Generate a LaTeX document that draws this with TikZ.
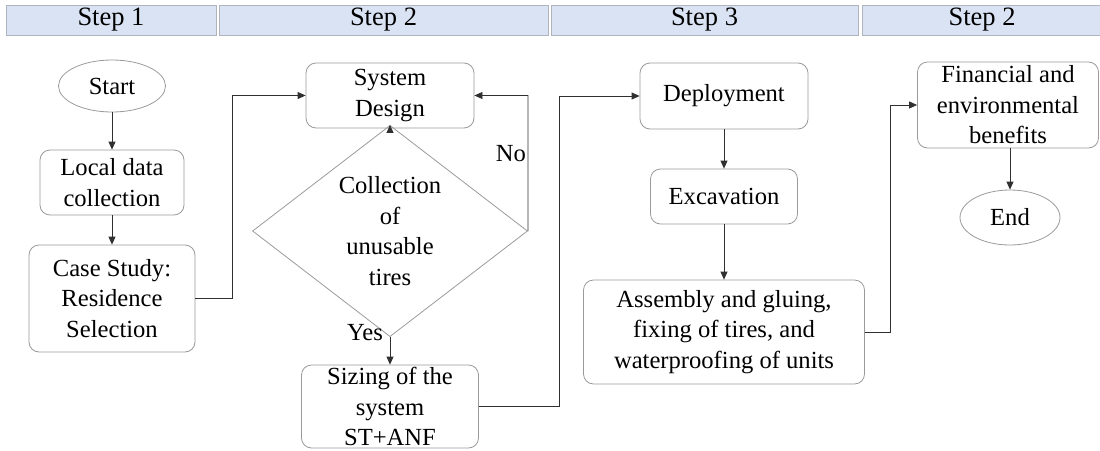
\documentclass[tikz,border=0pt]{standalone}
\usepackage{fontspec}
\setmainfont{Liberation Serif}
\usetikzlibrary{shapes.geometric,arrows.meta}
\definecolor{barfill}{HTML}{DAE3F3}
\definecolor{barline}{HTML}{B0B4BC}
\definecolor{boxline}{HTML}{9A9A9A}
\definecolor{conn}{HTML}{303030}
\tikzset{
  bar/.style={draw=barline, line width=1pt, fill=barfill, inner sep=0pt, minimum height=30pt, font=\fontsize{26.5}{30}\selectfont},
  proc/.style={draw=boxline, line width=0.8pt, rounded corners=10pt, align=center, inner sep=0pt, font=\fontsize{24.6}{30.5}\selectfont},
  term/.style={draw=boxline, line width=0.8pt, ellipse, align=center, inner sep=0pt, font=\fontsize{24.6}{30.5}\selectfont},
  dec/.style={draw=boxline, line width=0.8pt, diamond, align=center, inner sep=0pt, font=\fontsize{24.6}{30.5}\selectfont},
  lbl/.style={font=\fontsize{24.6}{30}\selectfont, inner sep=0pt},
  conn/.style={draw=conn, line width=0.8pt, -{Triangle[length=8pt,width=7pt]}},
  plain/.style={draw=conn, line width=0.8pt}
}
\begin{document}
\begin{tikzpicture}[x=1pt,y=-1pt]
\useasboundingbox (0,0) rectangle (1100,450);
% header bars
\node[bar, minimum width=210pt] (h1) at (111,20) {Step 1};
\node[bar, minimum width=329pt] (h2) at (383.5,20) {Step 2};
\node[bar, minimum width=307pt] (h3) at (704.5,20) {Step 3};
\node[bar, minimum width=240pt] (h4) at (982,20) {Step 2};
% nodes
\node[term, minimum width=107pt, minimum height=52pt] (start) at (112,86) {Start};
\node[proc, minimum width=144pt, minimum height=65pt] (local) at (112,182.5) {Local data\\collection};
\node[proc, minimum width=166pt, minimum height=107pt] (case) at (112,298.5) {Case Study:\\Residence\\Selection};
\node[proc, minimum width=168pt, minimum height=65pt] (design) at (390,95.5) {System\\Design};
\node[dec, minimum width=275pt, minimum height=162pt] (dia) at (390,231) {Collection\\of\\unusable\\tires};
\node[proc, minimum width=177pt, minimum height=83pt] (sizing) at (390,406.5) {Sizing of the\\system\\ST+ANF};
\node[proc, minimum width=168pt, minimum height=66pt] (deploy) at (724,96) {Deployment};
\node[proc, minimum width=147pt, minimum height=55pt] (excav) at (724,196.5) {Excavation};
\node[proc, minimum width=281pt, minimum height=104pt] (assem) at (724,332) {Assembly and gluing,\\fixing of tires, and\\waterproofing of units};
\node[proc, minimum width=181pt, minimum height=86pt] (fin) at (1008,105) {Financial and\\environmental\\benefits};
\node[term, minimum width=100pt, minimum height=55pt] (end) at (1010,217.5) {End};
% connector corner points
\coordinate (c1) at (232,298.5);
\coordinate (c2) at (232,95.5);
\coordinate (c3) at (528,95.5);
\coordinate (c4) at (559,406.5);
\coordinate (c5) at (559,96);
\coordinate (c6) at (890,332);
\coordinate (c7) at (890,105);
% connectors
\draw[conn] (start) -- (local);
\draw[conn] (local) -- (case);
\draw[conn] (case.east) -- (c1) -- (c2) -- (design.west);
\draw[conn] (design) -- (dia);
\draw[conn] (dia.east) -- (c3) -- (design.east);
\draw[conn] (dia) -- (sizing);
\draw[conn] (sizing.east) -- (c4) -- (c5) -- (deploy.west);
\draw[conn] (deploy) -- (excav);
\draw[conn] (excav) -- (assem);
\draw[conn] (assem.east) -- (c6) -- (c7) -- (fin.west);
\draw[conn] (fin.south -| end.north) -- (end.north);
% labels
\node[lbl] (no) at (511,154) {No};
\node[lbl] (yes) at (365,333) {Yes};
\end{tikzpicture}
\end{document}
